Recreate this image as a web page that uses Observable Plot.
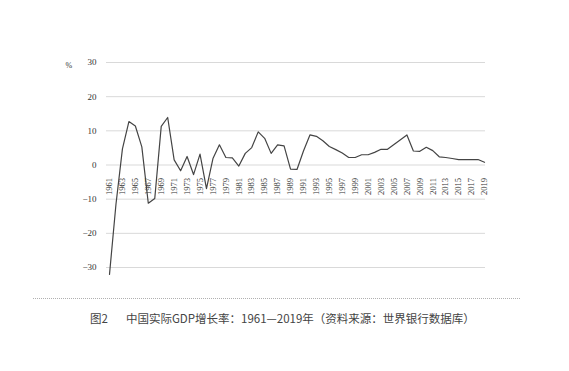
<!DOCTYPE html>
<html><head><meta charset="utf-8">
<script src="https://cdn.jsdelivr.net/npm/d3@7"></script>
<script src="https://cdn.jsdelivr.net/npm/@observablehq/plot@0.6"></script>
<style>
body{margin:0;background:#fff;width:569px;height:371px;position:relative;overflow:hidden}
#chart{position:absolute;left:0;top:0}
#rule{position:absolute;left:33px;top:298px;width:487px;border-top:1px dotted #b0b0b0}
#cap{position:absolute;left:90px;top:310px;font-size:11.5px;font-family:"Noto Sans CJK SC";color:#444;white-space:nowrap;line-height:16px}
</style></head><body>
<div id="chart"></div><div id="rule"></div>
<div id="cap"><span>图2</span><span style="margin-left:18px">中国实际GDP增长率：1961—2019年（资料来源：世界银行数据库）</span></div>
<script>
const years = [1961,1962,1963,1964,1965,1966,1967,1968,1969,1970,
  1971,1972,1973,1974,1975,1976,1977,1978,1979,1980,
  1981,1982,1983,1984,1985,1986,1987,1988,1989,1990,
  1991,1992,1993,1994,1995,1996,1997,1998,1999,2000,
  2001,2002,2003,2004,2005,2006,2007,2008,2009,2010,
  2011,2012,2013,2014,2015,2016,2017,2018,2019];
const growth = [-32,-11.5,4.7,12.7,11.4,5.3,-11.2,-9.8,11.3,13.9,
  1.5,-1.7,2.5,-2.8,3.2,-6.9,1.9,5.9,2.2,2.1,
  -0.3,3.4,5.1,9.7,7.8,3.4,5.9,5.6,-1.2,-1.3,
  4.1,8.8,8.4,7.1,5.4,4.5,3.5,2.2,2.2,3.0,
  3.0,3.7,4.6,4.6,6.0,7.4,8.8,4.1,4.0,5.2,
  4.2,2.4,2.2,1.9,1.6,1.6,1.6,1.6,0.8];
const yTicks = [-30,-20,-10,0,10,20,30];
const xTickYears = [1961,1963,1965,1967,1969,1971,1973,1975,1977,1979,
  1981,1983,1985,1987,1989,1991,1993,1995,1997,1999,
  2001,2003,2005,2007,2009,2011,2013,2015,2017,2019];
const unitLabel = "%";

const data = years.map((y, i) => ({year: y, value: growth[i]}));

const chart = Plot.plot({
  width: 569, height: 290,
  marginTop: 62, marginBottom: 23, marginLeft: 106, marginRight: 84,
  style: {fontFamily: "Liberation Serif", fontSize: "9px", color: "#333", background: "white"},
  x: {type: "linear", domain: [1961, 2019], insetLeft: 3, insetRight: 1, axis: null},
  y: {domain: [-30, 30], axis: null},
  marks: [
    Plot.gridY(yTicks, {stroke: "#d9d9d9", strokeOpacity: 1, strokeWidth: 1}),
    Plot.axisY(yTicks, {tickSize: 0, tickPadding: 10, fontSize: 9, label: null}),
    Plot.text(xTickYears, {x: d => d, y: () => 0, text: d => String(d), rotate: -90, textAnchor: "end", dy: 13, fontSize: 8.5, fill: "#333"}),
    Plot.line(data, {x: "year", y: "value", stroke: "#444", strokeWidth: 1.2}),
    Plot.text([unitLabel], {frameAnchor: "top-left", text: d => d, dx: -41, fontSize: 8, fill: "#333"})
  ]
});
document.getElementById("chart").append(chart);
</script>
</body></html>
